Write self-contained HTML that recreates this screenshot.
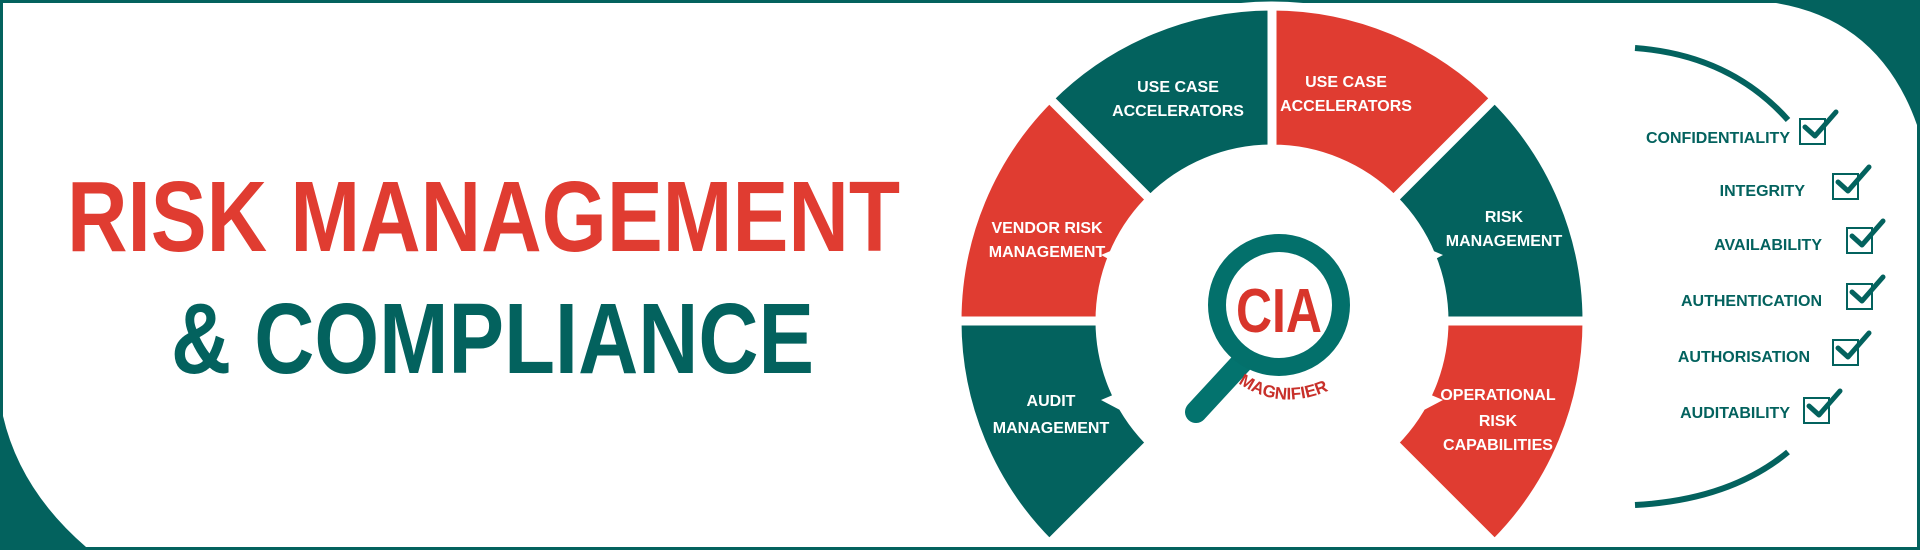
<!DOCTYPE html>
<html><head><meta charset="utf-8"><style>
html,body{margin:0;padding:0;background:#fff;}
svg{display:block;}
</style></head><body>
<svg width="1920" height="550" viewBox="0 0 1920 550" xmlns="http://www.w3.org/2000/svg" font-family="Liberation Sans, sans-serif">
<rect x="0" y="0" width="1920" height="550" fill="#03625e"/>
<path d="M3 3 H1776 Q1880 20 1917 125 V547 H86 Q20 490 3 416 Z" fill="#fff"/>

<text x="67" y="251" font-size="100" font-weight="bold" fill="#e03c31" textLength="833" lengthAdjust="spacingAndGlyphs">RISK MANAGEMENT</text>
<text x="171" y="373" font-size="100" font-weight="bold" fill="#03625e" textLength="643" lengthAdjust="spacingAndGlyphs">&amp; COMPLIANCE</text>

<g transform="translate(1272,321)" stroke="#fff" stroke-width="9" stroke-linejoin="bevel">
<path d="M-222.7 222.7 A315 315 0 0 1 -315 0 L-172 0 A172 172 0 0 0 -121.6 121.6 Z" fill="#03625e"/>
<path d="M-315 0 A315 315 0 0 1 -222.7 -222.7 L-121.6 -121.6 A172 172 0 0 0 -172 0 Z" fill="#e03c31"/>
<path d="M-222.7 -222.7 A315 315 0 0 1 0 -315 L0 -172 A172 172 0 0 0 -121.6 -121.6 Z" fill="#03625e"/>
<path d="M0 -315 A315 315 0 0 1 222.7 -222.7 L121.6 -121.6 A172 172 0 0 0 0 -172 Z" fill="#e03c31"/>
<path d="M222.7 -222.7 A315 315 0 0 1 315 0 L172 0 A172 172 0 0 0 121.6 -121.6 Z" fill="#03625e"/>
<path d="M315 0 A315 315 0 0 1 222.7 222.7 L121.6 121.6 A172 172 0 0 0 172 0 Z" fill="#e03c31"/>
</g>
<g fill="#fff" stroke="none">
<polygon points="1230,168 1238,150 1244,168"/>
<polygon points="1300,168 1308,150 1314,168"/>
<polygon points="1120,247 1101,255 1120,265"/>
<polygon points="1424,247 1443,255 1424,265"/>
<polygon points="1120,392 1101,400 1120,410"/>
<polygon points="1424,392 1443,400 1424,410"/>
</g>

<g fill="#fff" font-weight="bold" font-size="16" text-anchor="middle">
<text x="1178" y="92">USE CASE</text>
<text x="1178" y="116">ACCELERATORS</text>
<text x="1346" y="87">USE CASE</text>
<text x="1346" y="111">ACCELERATORS</text>
<text x="1047" y="233">VENDOR RISK</text>
<text x="1047" y="257">MANAGEMENT</text>
<text x="1504" y="222">RISK</text>
<text x="1504" y="246">MANAGEMENT</text>
<text x="1051" y="406">AUDIT</text>
<text x="1051" y="433">MANAGEMENT</text>
<text x="1498" y="400">OPERATIONAL</text>
<text x="1498" y="426">RISK</text>
<text x="1498" y="450">CAPABILITIES</text>
</g>

<line x1="1244" y1="360" x2="1196" y2="412" stroke="#03736e" stroke-width="22" stroke-linecap="round"/>
<circle cx="1279" cy="305" r="62" fill="#fff" stroke="#03706b" stroke-width="18"/>
<text x="1279" y="332" font-size="62" font-weight="bold" fill="#d8352b" text-anchor="middle" textLength="86" lengthAdjust="spacingAndGlyphs">CIA</text>
<path id="mg" d="M1238 383 Q1285 415 1340 385" fill="none"/>
<text font-size="17" font-weight="bold" fill="#c8302a"><textPath href="#mg">MAGNIFIER</textPath></text>

<path d="M1635 48 Q1730 55 1788 120" fill="none" stroke="#03625e" stroke-width="6"/>
<path d="M1788 452 Q1730 500 1635 505" fill="none" stroke="#03625e" stroke-width="6"/>

<g fill="#03625e" font-weight="bold" font-size="16" text-anchor="end">
<text x="1790" y="143">CONFIDENTIALITY</text>
<text x="1805" y="196">INTEGRITY</text>
<text x="1822" y="250">AVAILABILITY</text>
<text x="1822" y="306">AUTHENTICATION</text>
<text x="1810" y="362">AUTHORISATION</text>
<text x="1790" y="418">AUDITABILITY</text>
</g>
<g fill="none" stroke="#03625e">
<rect x="1800" y="119" width="25" height="25" stroke-width="2"/>
<rect x="1833" y="174" width="25" height="25" stroke-width="2"/>
<rect x="1847" y="228" width="25" height="25" stroke-width="2"/>
<rect x="1847" y="284" width="25" height="25" stroke-width="2"/>
<rect x="1833" y="340" width="25" height="25" stroke-width="2"/>
<rect x="1804" y="398" width="25" height="25" stroke-width="2"/>
<g stroke-width="5" stroke-linecap="round" stroke-linejoin="round">
<path d="M1805 127 L1815 136 L1836 112"/>
<path d="M1838 182 L1848 191 L1869 167"/>
<path d="M1852 236 L1862 245 L1883 221"/>
<path d="M1852 292 L1862 301 L1883 277"/>
<path d="M1838 348 L1848 357 L1869 333"/>
<path d="M1809 406 L1819 415 L1840 391"/>
</g>
</g>
</svg>
</body></html>
